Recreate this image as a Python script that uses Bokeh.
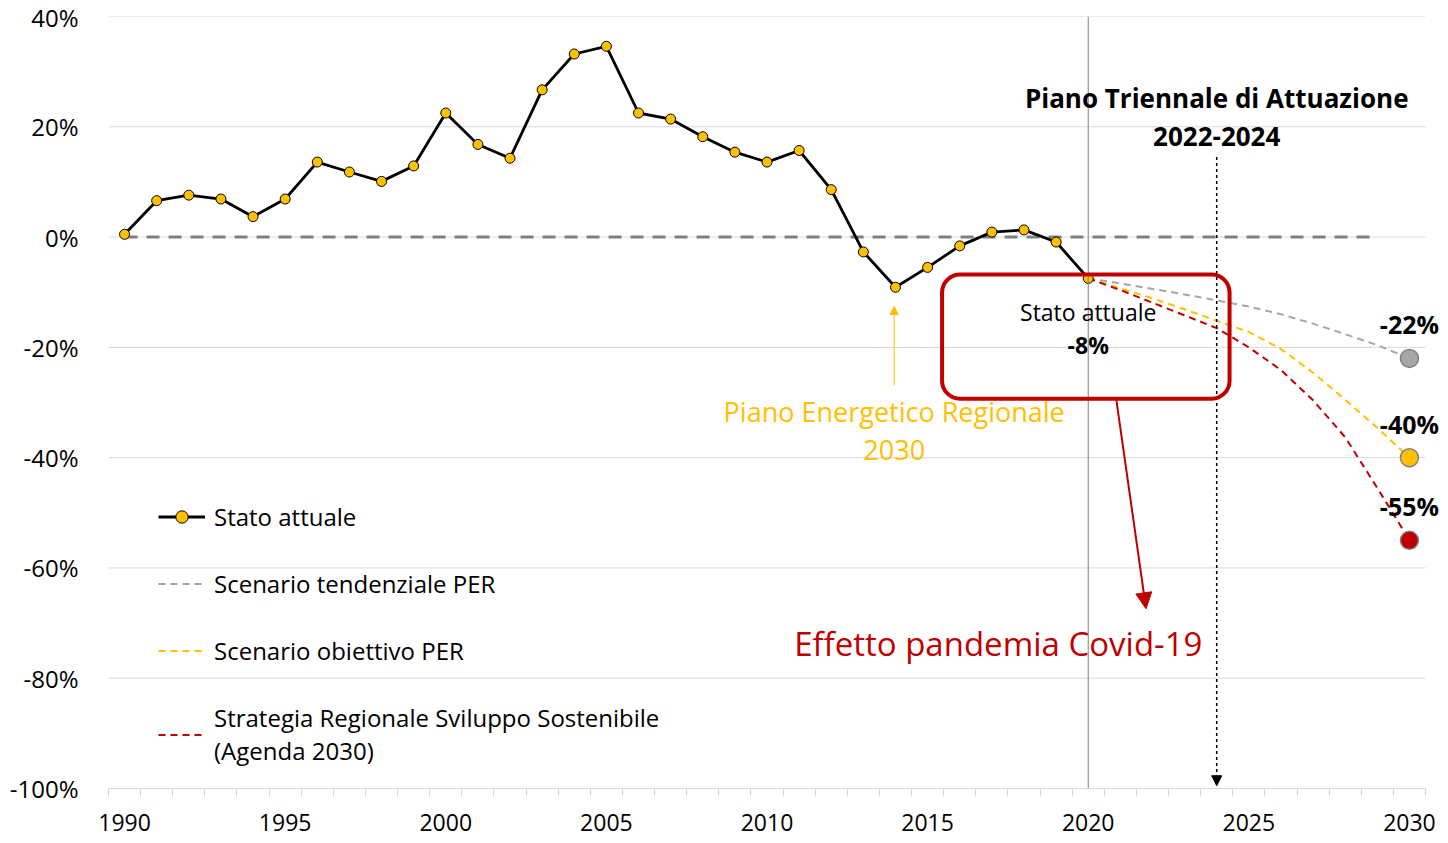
from bokeh.plotting import figure
from bokeh.models import (Range1d, FixedTicker, PrintfTickFormatter, Span, Arrow,
                          NormalHead, Label, BoxAnnotation, Legend, LegendItem,
                          ColumnDataSource)
from bokeh.embed import file_html
from bokeh.resources import INLINE

# ---------------- data ----------------
years_hist = list(range(1990, 2021))
stato_attuale = [0.5, 6.6, 7.6, 6.9, 3.7, 6.9, 13.6, 11.8, 10.1, 12.9,
                 22.5, 16.8, 14.3, 26.7, 33.2, 34.6, 22.5, 21.4, 18.2, 15.4,
                 13.6, 15.7, 8.6, -2.7, -9.1, -5.5, -1.6, 0.9, 1.3, -0.9, -7.5]

years_scen = list(range(2020, 2031))
scen_tendenziale = [-7.5, -8.4, -9.4, -10.4, -11.5, -12.6, -14.0, -15.7, -17.6, -19.6, -22.0]
scen_obiettivo = [-7.5, -9.3, -11.1, -13.1, -15.2, -17.2, -20.3, -24.6, -29.5, -34.6, -40.0]
strategia_srsvs = [-7.5, -9.6, -11.9, -14.2, -16.5, -20.0, -24.1, -29.6, -36.3, -45.5, -55.0]

baseline_x = [1990, 2029]
baseline_y = [0, 0]

y_ticks = [-100, -80, -60, -40, -20, 0, 20, 40]
x_ticks = [1990, 1995, 2000, 2005, 2010, 2015, 2020, 2025, 2030]

legend_labels = ["Stato attuale", "Scenario tendenziale PER", "Scenario obiettivo PER",
                 "Strategia Regionale Sviluppo Sostenibile\n(Agenda 2030)"]

YELLOW = "#FFC000"
RED = "#C00000"
GREY = "#A6A6A6"
FONT = "Open Sans"

X_MIN, X_MAX = 1989.5, 2030.5

# ---------------- figure ----------------
p = figure(width=1440, height=840, x_range=Range1d(X_MIN, X_MAX + 0.467),
           y_range=Range1d(-100, 40), output_backend="svg", toolbar_location=None,
           min_border_left=108, min_border_right=0, min_border_top=16,
           min_border_bottom=52)
p.outline_line_color = None
p.background_fill_color = "white"

p.xgrid.visible = False
p.ygrid.visible = False
# horizontal gridlines limited to the category area
p.segment(x0=[X_MIN] * len(y_ticks), x1=[X_MAX] * len(y_ticks), y0=y_ticks, y1=y_ticks,
          line_color="#D9D9D9", line_width=1, level="underlay")

p.xaxis.ticker = FixedTicker(ticks=x_ticks,
                             minor_ticks=[y + 0.5 for y in range(1989, 2031)])
p.xaxis.bounds = (X_MIN, X_MAX)
p.xaxis.major_tick_line_color = None
p.xaxis.minor_tick_line_color = "#D9D9D9"
p.xaxis.minor_tick_out = 8
p.xaxis.minor_tick_in = 0
p.xaxis.axis_line_color = "#D9D9D9"
p.xaxis.major_label_text_font = FONT
p.xaxis.major_label_text_font_size = "23px"
p.xaxis.major_label_text_color = "black"
p.xaxis.major_label_standoff = 17

p.yaxis.ticker = FixedTicker(ticks=y_ticks)
p.yaxis.formatter = PrintfTickFormatter(format="%d%%")
p.yaxis.axis_line_color = None
p.yaxis.major_tick_line_color = None
p.yaxis.minor_tick_line_color = None
p.yaxis.major_label_text_font = FONT
p.yaxis.major_label_text_font_size = "24px"
p.yaxis.major_label_text_color = "black"
p.yaxis.major_label_standoff = 24

# baseline zero dashed
p.line(baseline_x, baseline_y, line_color="#808080", line_width=3, line_dash="13 9")

# vertical line at 2020
p.add_layout(Span(location=2020, dimension="height", line_color="#808080", line_width=1))

# scenarios
r_grey = p.line(years_scen, scen_tendenziale, line_color=GREY, line_width=2, line_dash="7 5")
r_yel = p.line(years_scen, scen_obiettivo, line_color=YELLOW, line_width=2, line_dash="7 5")
r_red = p.line(years_scen, strategia_srsvs, line_color=RED, line_width=2, line_dash="7 5")

# stato attuale
r_line = p.line(years_hist, stato_attuale, line_color="black", line_width=2.8)
r_pts = p.scatter(years_hist, stato_attuale, size=10, fill_color=YELLOW,
                  line_color="black", line_width=1)

# end markers
end_vals = [scen_tendenziale[-1], scen_obiettivo[-1], strategia_srsvs[-1]]
end_src = ColumnDataSource(dict(
    x=[years_scen[-1]] * 3,
    y=end_vals,
    c=[GREY, YELLOW, RED],
))
p.scatter("x", "y", source=end_src, size=18, fill_color="c", line_color="#808080",
          line_width=1.5)
for v in end_vals:
    p.add_layout(Label(x=years_scen[-1], y=v, text=f"{v:.0f}%", y_offset=34,
                       text_align="center", text_baseline="middle", text_font=FONT,
                       text_font_size="25px", text_font_style="bold", text_color="black"))

# 2024 dotted arrow
p.add_layout(Arrow(end=NormalHead(size=10, fill_color="black", line_color="black"),
                   x_start=2024, y_start=14.5, x_end=2024, y_end=-99.5,
                   line_color="black", line_width=1.5, line_dash="3 3"))

# red rounded box
p.add_layout(BoxAnnotation(left=2015.45, right=2024.4, top=-6.8, bottom=-29.3,
                           fill_alpha=0, line_color=RED, line_alpha=1.0, line_width=4,
                           border_radius=18))

# red arrow
p.add_layout(Arrow(end=NormalHead(size=16, fill_color=RED, line_color=RED),
                   x_start=2020.87, y_start=-29.3, x_end=2021.8, y_end=-67.4,
                   line_color=RED, line_width=2))

# yellow arrow
p.add_layout(Arrow(end=NormalHead(size=8, fill_color=YELLOW, line_color=YELLOW),
                   x_start=2013.96, y_start=-26.9, x_end=2013.96, y_end=-12.6,
                   line_color=YELLOW, line_width=1))


def lab(x, y, text, size, color="black", bold=False):
    p.add_layout(Label(x=x, y=y, text=text, text_align="center", text_baseline="middle",
                       text_font=FONT, text_font_size=size, text_color=color,
                       text_font_style="bold" if bold else "normal"))


lab(2024.0, 25.3, "Piano Triennale di Attuazione", "26px", bold=True)
lab(2024.0, 18.2, "2022-2024", "26px", bold=True)
lab(2020.0, -13.5, "Stato attuale", "23px")
lab(2020.0, -19.5, "-8%", "23px", bold=True)
lab(2017.2, -73.7, "Effetto pandemia Covid-19", "33px", color=RED)
lab(2013.96, -31.6, "Piano Energetico Regionale", "27px", color=YELLOW)
lab(2013.96, -38.7, "2030", "27px", color=YELLOW)

# legend
legend = Legend(items=[
    LegendItem(label=legend_labels[0], renderers=[r_line, r_pts]),
    LegendItem(label=legend_labels[1], renderers=[r_grey]),
    LegendItem(label=legend_labels[2], renderers=[r_yel]),
    LegendItem(label=legend_labels[3], renderers=[r_red]),
], location=(50, 21))
legend.background_fill_alpha = 0
legend.border_line_color = None
legend.padding = 0
legend.margin = 0
legend.spacing = 34
legend.glyph_width = 47
legend.glyph_height = 31
legend.label_height = 31
legend.label_standoff = 9
legend.label_text_font = FONT
legend.label_text_font_size = "24px"
legend.label_text_color = "black"
p.add_layout(legend)

open("out.html", "w").write(file_html(p, INLINE))
